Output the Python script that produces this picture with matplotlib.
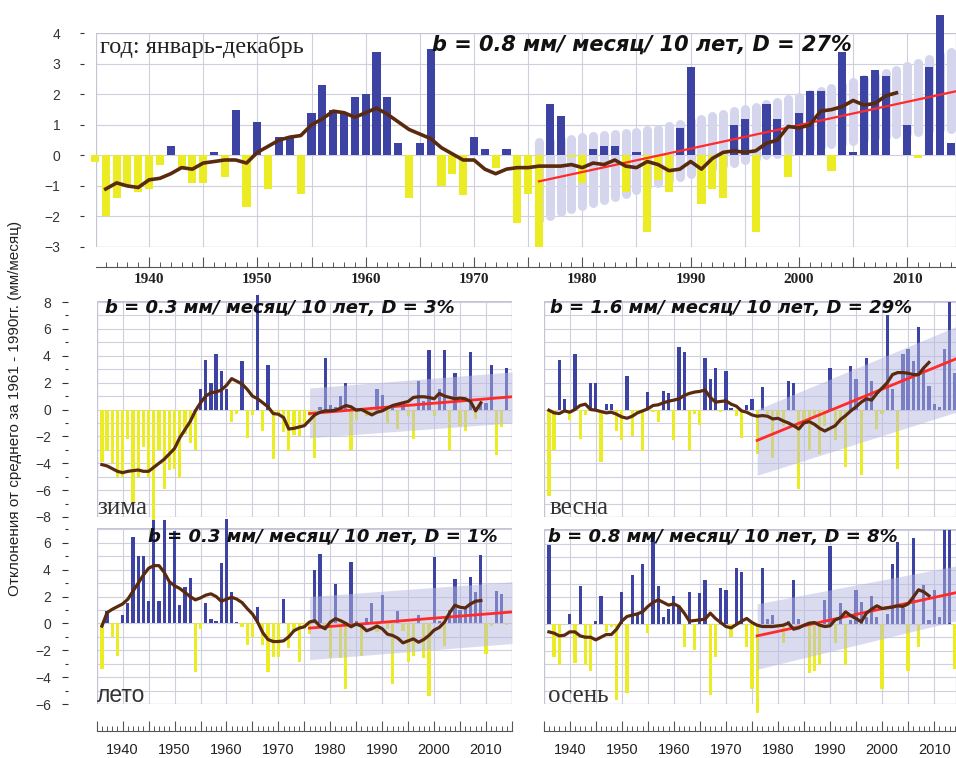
import numpy as np
import matplotlib
matplotlib.use("Agg")
import matplotlib.pyplot as plt
from matplotlib.patches import Rectangle
from matplotlib.ticker import MultipleLocator, FuncFormatter

plt.rcParams['font.family'] = ['Liberation Sans', 'DejaVu Sans']

# ---- data (mm/month anomalies) ----
years_year = np.arange(1935, 2015)
annual = [-0.2, -2.0, -1.4, -1.0, -1.2, -1.1, -0.3, 0.3, -0.4, -0.9,
          -0.9, 0.1, -0.7, 1.5, -1.7, 1.1, -1.1, 0.6, 0.6, -1.25,
          1.4, 2.3, 1.5, 1.4, 1.9, 2.0, 3.4, 1.9, 0.4, -1.4,
          0.4, 3.5, -1.0, -0.6, -1.3, 0.6, 0.2, -0.4, 0.2, -2.2,
          -1.25, -3.0, 1.7, 1.3, -0.05, -0.9, 0.2, 0.3, 0.3, -1.2,
          0.1, -2.5, -0.8, -1.2, 0.9, 2.9, -1.6, -1.1, -1.4, 1.0,
          1.2, -2.5, 1.7, 1.2, -0.7, 1.4, 2.1, 2.1, -0.5, 3.4,
          0.1, 2.6, 2.8, 2.6, 0.0, 1.0, -0.1, 2.9, 4.6, 0.4]
smooth_years = np.arange(1936, 2010)
annual_smooth = [-1.1, -0.9, -1.0, -1.05, -0.8, -0.75, -0.6, -0.4, -0.45, -0.25,
                 -0.2, -0.15, -0.15, -0.25, 0.1, 0.3, 0.5, 0.6, 0.65, 1.0,
                 1.2, 1.45, 1.4, 1.25, 1.4, 1.55, 1.35, 1.1, 0.85, 0.7,
                 0.55, 0.25, 0.05, -0.15, -0.15, -0.45, -0.6, -0.45, -0.4,
                 -0.4, -0.35, -0.35, -0.35, -0.3, -0.4, -0.25, -0.3, -0.15, -0.35,
                 -0.4, -0.2, -0.3, -0.5, -0.45, -0.2, -0.45, -0.1, 0.1, 0.15,
                 0.1, 0.15, 0.4, 0.5, 0.95, 0.9, 1.0, 1.45, 1.5, 1.6,
                 1.8, 1.65, 1.7, 1.95, 2.05]
band_years = np.arange(1976, 2015)
annual_band_hi = [0.43, 0.46, 0.5, 0.55, 0.6, 0.63, 0.66, 0.7, 0.73, 0.77,
                  0.82, 0.88, 0.95, 1.03, 1.12, 1.2, 1.28, 1.36, 1.44, 1.52,
                  1.6, 1.68, 1.76, 1.84, 1.92, 2.0, 2.1, 2.2, 2.3, 2.4,
                  2.5, 2.6, 2.7, 2.8, 2.92, 3.04, 3.16, 3.28, 3.4]
annual_band_lo = [-2.1, -1.98, -1.86, -1.75, -1.65, -1.55, -1.45, -1.35, -1.25, -1.12,
                  -1.0, -0.9, -0.8, -0.7, -0.6, -0.5, -0.4, -0.32, -0.24, -0.16,
                  -0.08, 0.0, 0.06, 0.12, 0.18, 0.24, 0.3, 0.36, 0.42, 0.48,
                  0.54, 0.6, 0.65, 0.7, 0.74, 0.78, 0.82, 0.85, 0.88]

years_season = np.arange(1936, 2015)
winter = [-3.9, -3.1, -4.0, -5.0, -5.0, -2.2, -7.0, -5.0, -2.8, -5.0,
          -9.6, -3.0, -5.9, -4.5, -4.4, -5.1, -1.8, -2.5, -3.0,
          1.5, 3.7, 2.0, 4.1, 2.9, 1.5, -0.9, -0.3, 3.6, -2.1,
          -0.4, 8.5, -1.6, 3.3, -3.7, -0.3, -1.7, -3.1, -1.9, -2.0,
          -1.0, -0.5, -3.6, 0.2, 3.8, 0.3, 0.2, 1.0, 2.0, -3.0,
          -0.8, 0.1, -0.45, -0.3, 1.5, 1.05, -1.0, 0.3, -1.45, 0.5,
          -0.5, -2.2, 2.1, 0.6, 4.45, -0.5, 1.5, 4.45, -3.0, 2.7,
          -1.2, -1.6, 4.3, -0.7, 0.5, 0.5, 3.3, -3.4, -1.3, 3.1]
spring = [-6.4, -3.0, 3.7, 0.75, -0.8, 4.1, -2.2, -0.4, 2.0, 2.0,
          -3.9, 0.4, 0.4, -1.6, -2.3, 2.5, -2.0, -0.3, -3.1, 1.3,
          -0.2, -0.95, 1.35, 1.2, -2.3, 4.65, 4.3, -3.0, -0.3, -1.15,
          3.8, 2.25, 3.1, -0.2, 2.85, 0.1, -0.45, -2.1, 0.35, 0.75,
          -3.3, 1.65, -0.3, -3.6, -0.5, -1.2, 2.1, 2.0, -5.9, -1.0,
          -3.1, -0.5, -3.3, -1.2, 3.1, -2.3, -1.0, -4.25, 3.25, 2.25,
          -4.9, 3.85, 2.1, -1.45, -0.3, 7.0, 1.55, -4.4, 4.1, 4.5,
          3.6, 6.15, 3.15, 1.75, 0.4, 0.2, 4.5, 8.0, 2.7]
summer = [-3.4, 0.9, -1.0, -2.4, 0.65, 1.5, 6.4, 5.0, 5.0, 1.7,
          7.7, 1.7, 7.7, 3.0, 6.9, 1.35, 2.7, 3.4, -3.6, -0.4,
          1.5, 0.35, 0.15, 4.5, 7.8, 2.3, 0.1, -0.3, -1.6, -1.0,
          1.2, -1.6, -3.6, -2.5, -2.5, 1.8, -1.8, -0.6, -2.9,
          -0.4, -0.8, 4.0, 5.2, -0.5, -2.6, 2.9, -2.6, -4.9, 4.6,
          0.2, -2.4, 0.4, 1.5, -0.65, 2.1, -0.4, -4.5, 0.9, -0.6,
          -2.9, -2.4, 0.6, -2.6, -5.4, 4.95, 0.2, -1.7, 1.0, 3.3,
          1.0, 1.2, 3.45, 2.3, 5.1, -2.3, -0.2, 2.4, 2.2, -0.1]
autumn = [5.9, -2.5, -3.05, 0.0, 0.75, -2.9, 2.8, -3.05, -3.5, 0.25,
          2.1, -0.6, -0.2, -5.7, 2.4, -5.2, 3.65, 0.75, 4.5, -0.7,
          6.9, 2.8, 0.55, 1.1, 2.1, 1.35, -1.75, 2.4, -1.95, 2.3,
          3.3, -5.3, -2.45, 2.65, 2.55, -0.95, 4.2, 3.9, -1.7, -4.9,
          -6.7, 4.2, 0.35, 0.65, -0.2, -1.4, 0.2, 3.3, 0.35, -0.3,
          -3.7, -3.5, -3.05, 1.8, 5.8, -1.45, 1.55, -3.05, 0.3, 2.5,
          1.6, 0.5, 2.05, 0.5, -4.9, 0.75, 4.5, 6.1, 1.2, -3.55,
          6.45, -1.75, 2.9, 0.3, 2.5, 0.5, 7.0, 7.0, -3.4]

winter_smooth = [-4.1, -4.2, -4.4, -4.6, -4.7, -4.6, -4.55, -4.5, -4.6,
                 -4.6, -4.3, -4.0, -3.7, -3.3, -2.9, -2.1, -1.5, -0.9, -0.1,
                 0.5, 1.0, 1.25, 1.3, 1.45, 1.8, 2.3, 2.1, 1.9, 1.5,
                 1.0, 0.8, 0.5, 0.2, -0.3, -0.35, -0.6, -1.45, -1.4, -1.3,
                 -1.2, -0.8, -0.4, -0.2, -0.1, -0.1, -0.05, 0.1, 0.3, 0.2,
                 -0.05, 0.0, -0.2, -0.4, -0.2, -0.1, 0.1, 0.3, 0.4, 0.5,
                 0.6, 0.9, 0.95, 0.95, 0.9, 0.8, 1.2, 1.0, 0.9, 0.8,
                 0.85, 0.8, 0.6, -0.1, 0.5]
spring_smooth = [-0.05, -0.25, -0.3, -0.1, -0.2, 0.0, 0.3, 0.4, 0.0, -0.05,
                 -0.15, -0.25, -0.2, -0.35, -0.55, -0.65, -0.5, -0.25, -0.1, 0.05,
                 0.3, 0.35, 0.5, 0.62, 0.7, 0.8, 1.05, 1.2, 1.3, 1.35,
                 1.45, 0.9, 0.55, 0.6, 0.65, 0.4, 0.25, -0.1, -0.2, -0.4,
                 -0.5, -0.45, -0.5, -0.7, -0.65, -0.85, -1.0, -1.2, -1.45, -1.0,
                 -0.9, -1.1, -1.4, -1.6, -1.4, -1.2, -0.75, -0.45, -0.1, 0.2,
                 0.55, 0.8, 0.7, 1.2, 1.6, 2.0, 2.6, 2.75, 2.75, 2.7,
                 2.6, 2.6, 3.1, 3.5]
summer_smooth = [-0.2, 0.8, 1.05, 1.25, 1.45, 1.8, 2.4, 3.0, 3.6, 4.1,
                 4.3, 4.3, 3.8, 3.1, 2.8, 2.6, 2.3, 2.0, 1.75, 1.9,
                 2.1, 2.2, 2.0, 1.65, 1.8, 1.95, 1.8, 1.55, 1.1, 0.7,
                 0.1, -0.7, -1.2, -1.35, -1.35, -1.3, -1.0, -0.55, -0.35,
                 -0.25, 0.1, 0.2, -0.2, -0.4, 0.1, 0.35, 0.2, 0.0, -0.25,
                 -0.05, -0.2, -0.55, -0.4, -0.2, -0.4, -0.8, -0.9, -1.1, -1.45,
                 -1.3, -1.15, -1.4, -1.2, -0.9, -0.5, -0.3, 0.1, 0.8, 1.35,
                 1.2, 1.15, 1.45, 1.65, 1.7]
autumn_smooth = [-0.6, -0.7, -0.9, -0.85, -0.6, -0.6, -0.9, -1.0, -1.0, -1.2,
                 -1.0, -0.8, -0.8, -0.4, 0.2, 0.55, 0.65, 0.75, 0.9, 1.3,
                 1.6, 1.8, 1.6, 1.4, 1.5, 1.3, 0.8, 0.2, 0.25, 0.3,
                 0.35, 0.8, 0.4, 0.1, -0.2, -0.3, -0.05, 0.2, 0.4, 0.1,
                 -0.1, -0.2, -0.2, -0.2, -0.15, -0.1, 0.05, -0.4, -0.3, -0.1,
                 0.05, 0.1, -0.1, -0.2, -0.15, 0.3, 0.45, 0.9, 0.6, 0.4,
                 0.15, 0.8, 1.1, 1.35, 1.15, 1.2, 1.25, 1.35, 1.3, 1.5,
                 2.0, 2.55, 2.4, 2.1]

# trend lines and confidence bands (start / end of 1976-2014 period)
trend_x = [1976, 2015]
annual_trend = [-0.85, 2.14]
winter_trend = [-0.3, 0.95]
spring_trend = [-2.3, 3.9]
summer_trend = [-0.35, 0.85]
autumn_trend = [-0.9, 2.4]
winter_band = ([-2.1, -1.0], [1.6, 2.8])
spring_band = ([-4.9, -0.1], [0.0, 6.3])
summer_band = ([-2.7, -1.5], [2.0, 3.1])
autumn_band = ([-3.4, 0.3], [1.5, 4.4])

labels = {
    'annual': ('год: январь-декабрь', 'b = 0.8 мм/ месяц/ 10 лет, D = 27%'),
    'winter': ('зима', 'b = 0.3 мм/ месяц/ 10 лет, D = 3%'),
    'spring': ('весна', 'b = 1.6 мм/ месяц/ 10 лет, D = 29%'),
    'summer': ('лето', 'b = 0.3 мм/ месяц/ 10 лет, D = 1%'),
    'autumn': ('осень', 'b = 0.8 мм/ месяц/ 10 лет, D = 8%'),
}
ylabel = 'Отклонения от среднего за 1961 - 1990гг. (мм/месяц)'

# ---- style ----
BLUE = '#3c43a3'
YELLOW = '#ecec24'
BROWN = '#5a2a0f'
RED = '#ff2a2a'
BAND = '#b9b9e2'
BLOB = '#d5d5ee'
GRID = '#cfcfe0'
FRAME = '#c4c4d4'
W, H = 956, 758

fig = plt.figure(figsize=(W / 100, H / 100), dpi=100)


def px_rect(l, t, r, b):
    return [l / W, 1 - b / H, (r - l) / W, (b - t) / H]


def ftext(x, y, s, **kw):
    fig.text(x / W, 1 - y / H, s, va='center', ha='left', **kw)


def decade(v, pos):
    v = int(round(v))
    return str(v) if v % 10 == 0 else ''


def panel(rect, xlim, ylim, ymajor):
    ax = fig.add_axes(rect)
    ax.set_xlim(*xlim)
    ax.set_ylim(*ylim)
    ax.set_facecolor('white')
    ax.xaxis.set_major_locator(MultipleLocator(5))
    ax.xaxis.set_minor_locator(MultipleLocator(1))
    ax.yaxis.set_major_locator(MultipleLocator(ymajor))
    ax.yaxis.set_minor_locator(MultipleLocator(1))
    ax.grid(True, which='major', axis='x', color=GRID, lw=0.8)
    ax.grid(True, which='both', axis='y', color=GRID, lw=0.8)
    ax.set_axisbelow(True)
    for s in ax.spines.values():
        s.set_visible(False)
    ax.add_patch(Rectangle((0, 0), 1, 1, transform=ax.transAxes, fill=False,
                           ec=FRAME, lw=0.9, zorder=1))
    ax.tick_params(which='both', bottom=False, left=False,
                   labelbottom=False, labelleft=False)
    return ax


def draw(ax, yrs, vals, width, sm_years, sm_vals, trend, sm_lw, tr_lw):
    cols = [BLUE if v >= 0 else YELLOW for v in vals]
    ax.bar(yrs, vals, width=width, color=cols, zorder=2, clip_on=False)
    ax.plot(trend_x, trend, color=RED, lw=tr_lw, zorder=5)
    ax.plot(sm_years, sm_vals, color=BROWN, lw=sm_lw, zorder=6,
            solid_joinstyle='round')


def yaxis_ticks(ax, offset, length, pad):
    ax.spines['left'].set_position(('outward', offset))
    ax.tick_params(axis='y', which='major', left=True, labelleft=True,
                   length=length, width=0.8, pad=pad, labelsize=10,
                   colors='#333333')
    ax.tick_params(axis='y', which='minor', left=True, length=length * 0.5,
                   width=0.8, color='#333333')


def xaxis_ticks(ax, offset, pad, font):
    sp = ax.spines['bottom']
    sp.set_visible(True)
    sp.set_position(('outward', offset))
    sp.set_color('#555555')
    sp.set_linewidth(0.8)
    ax.xaxis.set_major_formatter(FuncFormatter(decade))
    ax.tick_params(axis='x', which='major', bottom=True, labelbottom=True,
                   direction='in', length=7.5, width=0.8, pad=pad,
                   color='#555555', labelcolor='#222222')
    ax.tick_params(axis='x', which='minor', bottom=True, direction='in',
                   length=3.5, width=0.7, color='#555555')
    for t in ax.get_xticklabels():
        t.set_fontproperties(font)


# ---- annual panel ----
ax0 = panel(px_rect(96, 32.7, 956, 247), (1935.1, 2014.5), (-3, 4.02), 1)
ax0.vlines(band_years, annual_band_lo, annual_band_hi, colors=BLOB, lw=6.5,
           capstyle='round', zorder=1.5)
draw(ax0, years_year, annual, 0.75, smooth_years, annual_smooth,
     annual_trend, 2.6, 1.6)
yaxis_ticks(ax0, 8.6, 3, 14)
xaxis_ticks(ax0, 14.4, 4.5, dict(family='Liberation Serif', weight='bold', size=11))

# ---- seasonal panels ----
left_x = (1935, 2015)
right_x = (1935, 2014.2)
seasons = [
    ('winter', px_rect(96.7, 300.7, 512, 517), left_x, (-8, 8.1), winter,
     winter_smooth, 1936, winter_trend, winter_band),
    ('spring', px_rect(543.7, 300.7, 956, 517), right_x, (-8, 8.1), spring,
     spring_smooth, 1936, spring_trend, spring_band),
    ('summer', px_rect(96.7, 528, 512, 704), left_x, (-6, 7.1), summer,
     summer_smooth, 1936, summer_trend, summer_band),
    ('autumn', px_rect(543.7, 529, 956, 704), right_x, (-6, 7.1), autumn,
     autumn_smooth, 1936, autumn_trend, autumn_band),
]
axes = {}
for name, rect, xl, yl, vals, sm, sm0, tr, band in seasons:
    ax = panel(rect, xl, yl, 2)
    ax.fill_between(trend_x, band[0], band[1], color=BAND, alpha=0.5,
                    lw=0, zorder=3)
    draw(ax, years_season, vals, 0.62, np.arange(sm0, sm0 + len(sm)), sm,
         tr, 2.3, 2.0)
    axes[name] = ax

for name in ('winter', 'summer'):
    yaxis_ticks(axes[name], 20.7, 4.3, 8)
sans_tick = dict(family='Liberation Sans', size=10.5)
for name in ('summer', 'autumn'):
    xaxis_ticks(axes[name], 19.4, 9, sans_tick)

# ---- texts ----
bfont = dict(family='DejaVu Sans', weight='bold', style='oblique', color='#111111')
ftext(100, 47, labels['annual'][0], family='Liberation Serif', size=17.5, color='#222222')
ftext(432, 45, labels['annual'][1], size=15, **bfont)
ftext(105, 308, labels['winter'][1], size=13, **bfont)
ftext(550, 308, labels['spring'][1], size=13, **bfont)
ftext(148, 537, labels['summer'][1], size=13, **bfont)
ftext(548, 537, labels['autumn'][1], size=13, **bfont)
ftext(97, 508, labels['winter'][0], family='Liberation Serif', size=18, color='#333333')
ftext(550, 508, labels['spring'][0], family='Liberation Serif', size=18, color='#333333')
ftext(97, 695, labels['summer'][0], family='Liberation Sans', size=16.5, color='#333333')
ftext(548, 696, labels['autumn'][0], family='Liberation Serif', size=18, color='#333333')
fig.text(15 / W, 1 - 408 / H, ylabel, rotation=90, ha='center', va='center',
         size=11, color='#222222')

fig.savefig('out.png', dpi=100)
